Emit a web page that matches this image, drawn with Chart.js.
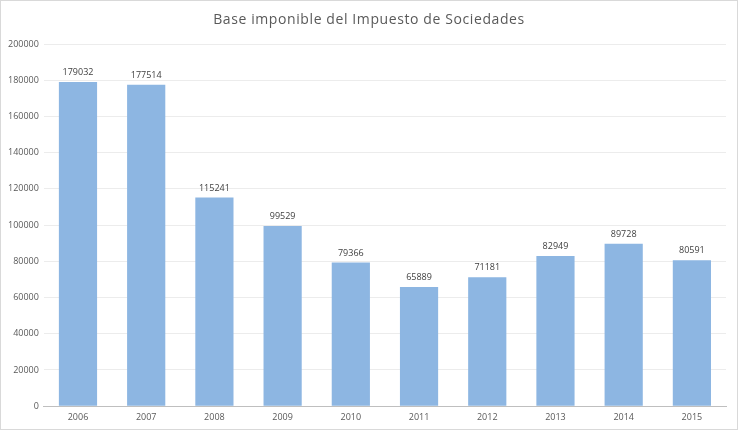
<!DOCTYPE html>
<html>
<head>
<meta charset="utf-8">
<script src="https://cdn.jsdelivr.net/npm/chart.js@4/dist/chart.umd.min.js"></script>
<style>
    html, body { margin: 0; padding: 0; background: #fff; }
    #wrap { position: relative; width: 736px; height: 428px; border: 1px solid #d9d9d9; }
</style>
</head>
<body>
<div id="wrap"><canvas id="chart" width="736" height="428"></canvas></div>
<script>
const years = ["2006", "2007", "2008", "2009", "2010", "2011", "2012", "2013", "2014", "2015"];
const baseImponible = [179032, 177514, 115241, 99529, 79366, 65889, 71181, 82949, 89728, 80591];
const titleText = "Base imponible del Impuesto de Sociedades";

const textColor = "#595959";

// title drawn by hand so letter spacing can match
const titlePlugin = {
    id: "spacedTitle",
    afterDraw(chart) {
        const ctx = chart.ctx;
        ctx.save();
        ctx.font = "14px 'Open Sans'";
        ctx.letterSpacing = "0.6px";
        ctx.fillStyle = textColor;
        ctx.textAlign = "center";
        ctx.textBaseline = "middle";
        ctx.fillText(titleText, chart.width / 2, 19);
        ctx.restore();
    }
};

const labelPlugin = {
    id: "barLabels",
    afterDatasetsDraw(chart) {
        const ctx = chart.ctx;
        const meta = chart.getDatasetMeta(0);
        ctx.save();
        ctx.font = "9px 'Open Sans'";
        ctx.fillStyle = "#404040";
        ctx.textAlign = "center";
        ctx.textBaseline = "bottom";
        meta.data.forEach((bar, i) => {
            ctx.fillText(String(baseImponible[i]), bar.x, bar.y - 5);
        });
        ctx.restore();
    }
};

new Chart(document.getElementById("chart"), {
    type: "bar",
    plugins: [titlePlugin, labelPlugin],
    data: {
        labels: years,
        datasets: [{
            data: baseImponible,
            backgroundColor: "#8db6e2",
            barPercentage: 0.56,
            categoryPercentage: 1
        }]
    },
    options: {
        responsive: false,
        animation: false,
        layout: { padding: { top: 43, left: 2, right: 11, bottom: 0 } },
        plugins: {
            legend: { display: false },
            tooltip: { enabled: false }
        },
        scales: {
            x: {
                grid: { display: false, drawTicks: false },
                border: { color: "#bfbfbf" },
                ticks: { color: textColor, font: { size: 9, family: "Open Sans" }, padding: 6 }
            },
            y: {
                min: 0,
                max: 200000,
                grid: { color: "#ececec", drawTicks: false },
                border: { display: false },
                ticks: {
                    stepSize: 20000,
                    color: textColor,
                    font: { size: 9, family: "Open Sans" },
                    padding: 5,
                    callback: v => String(v)
                }
            }
        }
    }
});
</script>
</body>
</html>
